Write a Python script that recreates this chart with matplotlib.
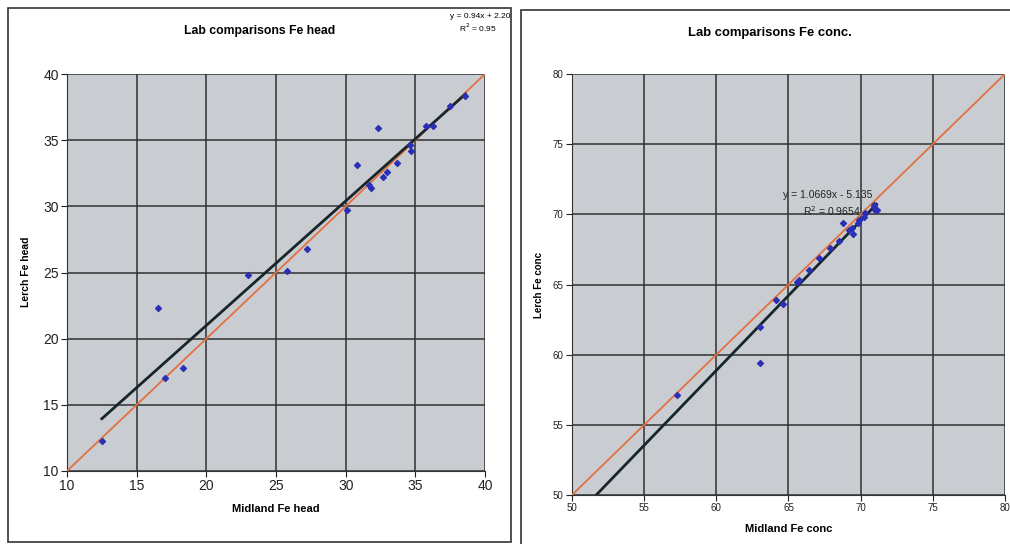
import matplotlib.pyplot as plt
from matplotlib.patches import Rectangle

plt.rcParams['font.family'] = ['Liberation Sans', 'DejaVu Sans']

# Fe head: Midland vs Lerch
head_midland = [12.5, 16.5, 17.0, 18.3, 23.0, 25.8, 27.2, 30.1, 30.8, 31.7, 31.8, 32.3,
                32.7, 33.0, 33.7, 34.6, 34.7, 35.8, 36.3, 37.5, 38.6]
head_lerch = [12.3, 22.3, 17.0, 17.8, 24.8, 25.1, 26.8, 29.7, 33.1, 31.6, 31.4, 35.9,
              32.2, 32.6, 33.3, 34.6, 34.2, 36.1, 36.1, 37.6, 38.3]
head_fit = (0.94, 2.20)

# Fe conc: Midland vs Lerch
conc_midland = [57.3, 63.0, 63.0, 64.1, 64.6, 65.6, 65.7, 66.4, 67.1, 67.9, 68.5, 68.8,
                69.2, 69.4, 69.5, 69.8, 69.9, 70.2, 70.3, 70.9, 70.9, 71.0, 71.1]
conc_lerch = [57.1, 59.4, 62.0, 63.9, 63.6, 65.2, 65.3, 66.0, 66.9, 67.6, 68.1, 69.4,
              68.9, 69.0, 68.6, 69.4, 69.6, 69.8, 70.1, 70.5, 70.7, 70.3, 70.3]
conc_fit = (1.0669, -5.135)

head_ticks = [10, 15, 20, 25, 30, 35, 40]
conc_ticks = [50, 55, 60, 65, 70, 75, 80]

bg = '#c9cdd2'
grid_c = '#303030'
orange = '#e3703f'
blue = '#2a2fb5'
dark = '#17262a'

fig = plt.figure(figsize=(10.1, 5.44), dpi=100)

# panel frames
fig.patches.append(Rectangle((8 / 1010, 2 / 544), 503 / 1010, 534 / 544, transform=fig.transFigure,
                             fill=False, ec='#333333', lw=1.2))
fig.patches.append(Rectangle((521 / 1010, -0.01), 0.5, 534 / 544 + 0.01, transform=fig.transFigure,
                             fill=False, ec='#333333', lw=1.2))


def panel(ax, xs, ys, fit, ticks, fs, fit_start):
    ax.set_facecolor(bg)
    lo, hi = ticks[0], ticks[-1]
    ax.set_xlim(lo, hi)
    ax.set_ylim(lo, hi)
    ax.set_xticks(ticks)
    ax.set_yticks(ticks)
    ax.grid(True, color=grid_c, lw=1.1)
    ax.set_axisbelow(True)
    for s in ['top', 'right']:
        ax.spines[s].set_visible(False)
    for s in ['left', 'bottom']:
        ax.spines[s].set_color('#333333')
    ax.tick_params(direction='out', length=4, labelsize=fs, colors='#222222', pad=2)
    ax.plot([lo, hi], [lo, hi], color=orange, lw=1.3, zorder=3)
    x0, x1 = fit_start, max(xs)
    a, b = fit
    ax.plot([x0, x1], [a * x0 + b, a * x1 + b], color=dark, lw=2, zorder=4)
    ax.scatter(xs, ys, marker='D', s=9, color=blue, zorder=5)


ax1 = fig.add_axes([67 / 1010, 73 / 544, 418 / 1010, 397 / 544])
panel(ax1, head_midland, head_lerch, head_fit, head_ticks, 10, min(head_midland))

ax2 = fig.add_axes([572 / 1010, 49 / 544, 433 / 1010, 421 / 544])
panel(ax2, conc_midland, conc_lerch, conc_fit, conc_ticks, 7, 50)
ax2.text(70.8, 71.4, 'y = 1.0669x - 5.135', fontsize=7.5, ha='right', va='center', color='#222222', zorder=6)
ax2.text(70.0, 70.2, 'R$^2$ = 0.9654', fontsize=7.5, ha='right', va='center', color='#222222', zorder=6)

fig.text(260 / 1010, 1 - 31 / 544, 'Lab comparisons Fe head', fontsize=8.8, fontweight='bold',
         ha='center', va='center')
fig.text(770 / 1010, 1 - 33 / 544, 'Lab comparisons Fe conc.', fontsize=9.4, fontweight='bold',
         ha='center', va='center')
fig.text(276 / 1010, 1 - 509 / 544, 'Midland Fe head', fontsize=8, fontweight='bold',
         ha='center', va='center')
fig.text(789 / 1010, 1 - 529 / 544, 'Midland Fe conc', fontsize=8, fontweight='bold',
         ha='center', va='center')
fig.text(26 / 1010, 1 - 272 / 544, 'Lerch Fe head', fontsize=7.5, fontweight='bold',
         ha='center', va='center', rotation=90)
fig.text(539 / 1010, 1 - 285 / 544, 'Lerch Fe conc', fontsize=7, fontweight='bold',
         ha='center', va='center', rotation=90)
fig.text(510 / 1010, 1 - 16 / 544, 'y = 0.94x + 2.20', fontsize=6, ha='right', va='center')
fig.text(497 / 1010, 1 - 28 / 544, 'R$^2$ = 0.95', fontsize=6, ha='right', va='center')

fig.savefig('out.png', dpi=100)
